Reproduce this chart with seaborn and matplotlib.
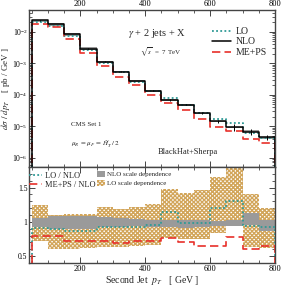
import numpy as np
import matplotlib
matplotlib.use("Agg")
import matplotlib.pyplot as plt
import seaborn as sns
from matplotlib.lines import Line2D
from matplotlib.patches import Patch
from matplotlib.ticker import MultipleLocator, LogLocator, NullFormatter, FixedLocator

# ---------------- data ----------------
bin_edges = [50, 100, 150, 200, 250, 300, 350, 400, 450, 500, 550, 600, 650, 700, 750, 800]
nlo = [0.0232, 0.0177, 0.0084, 0.00296, 0.00113, 5.5e-4, 2.75e-4, 1.35e-4,
       6.9e-5, 4.8e-5, 2.6e-5, 1.45e-5, 9.3e-6, 6.6e-6, 4.5e-6]
lo = [0.0211, 0.0159, 0.00731, 0.00258, 0.00104, 5.12e-4, 2.56e-4, 1.28e-4,
      7.94e-5, 4.75e-5, 2.55e-5, 1.74e-5, 1.22e-5, 6.2e-6, 4.14e-6]
meps = [0.01856, 0.01416, 0.00609, 0.002146, 8.19e-4, 3.80e-4, 1.99e-4, 9.79e-5,
        5.31e-5, 3.36e-5, 1.69e-5, 9.43e-6, 7.21e-6, 3.96e-6, 2.93e-6]
nlo_err_rel = [0.005, 0.005, 0.01, 0.01, 0.02, 0.02, 0.03, 0.04,
               0.05, 0.05, 0.07, 0.10, 0.22, 0.20, 0.18]

ratio_lo_nlo = [0.91, 0.90, 0.87, 0.87, 0.92, 0.93, 0.93, 0.95,
                1.15, 0.99, 0.98, 1.20, 1.31, 0.94, 0.92]
ratio_meps_nlo = [0.80, 0.80, 0.725, 0.725, 0.725, 0.69, 0.725, 0.725,
                  0.77, 0.70, 0.65, 0.65, 0.775, 0.60, 0.65]
nlo_band_up = [1.06, 1.09, 1.09, 1.09, 1.07, 1.06, 1.04, 1.03,
               1.03, 1.02, 1.02, 1.01, 1.02, 1.13, 1.02]
nlo_band_lo = [0.92, 0.89, 0.89, 0.90, 0.92, 0.93, 0.94, 0.92,
               0.93, 0.91, 0.92, 0.94, 0.94, 0.96, 0.86]
lo_band_up = [1.24, 1.10, 1.12, 1.12, 1.21, 1.19, 1.22, 1.26,
              1.48, 1.42, 1.46, 1.66, 1.79, 1.41, 1.20]
lo_band_lo = [0.72, 0.60, 0.60, 0.62, 0.64, 0.64, 0.65, 0.66,
              0.77, 0.75, 0.75, 0.84, 0.94, 0.64, 0.62]

x_major = [200, 400, 600, 800]
top_yticks = [1e-6, 1e-5, 1e-4, 1e-3, 1e-2]
ratio_yticks = [0.5, 1.0, 1.5]
ratio_yticklabels = ["0.5", "1", "1.5"]

# ---------------- style ----------------
sns.set_theme(style="ticks")
plt.rcParams.update({
    "font.family": ["Liberation Serif", "DejaVu Serif"],
    "mathtext.fontset": "stix",
    "axes.edgecolor": "#444444",
    "axes.linewidth": 1.0,
    "xtick.color": "#444444",
    "ytick.color": "#444444",
    "xtick.labelcolor": "black",
    "ytick.labelcolor": "black",
    "xtick.direction": "in",
    "ytick.direction": "in",
    "xtick.major.size": 4,
    "ytick.major.size": 4,
    "xtick.minor.size": 2,
    "ytick.minor.size": 2,
    "xtick.major.width": 0.7,
    "ytick.major.width": 0.7,
    "xtick.minor.width": 0.6,
    "ytick.minor.width": 0.6,
    "xtick.labelsize": 6,
    "ytick.labelsize": 5.5,
    "hatch.linewidth": 1.0,
})

TEAL = "#2f9a96"
RED = "#e8302a"
GRAY = "#9a9a9a"
HATCH_C = "#d2a55a"

W, H = 282, 287
fig = plt.figure(figsize=(W / 100, H / 100), dpi=100)
ax1 = fig.add_axes([29 / W, 1 - 167 / H, 246 / W, 157 / H])
ax2 = fig.add_axes([29 / W, 1 - 263 / H, 246 / W, 96 / H])

edges = np.asarray(bin_edges, float)
centers = 0.5 * (edges[:-1] + edges[1:])


def ext(vals):
    v = np.asarray(vals, float)
    return np.append(v, v[-1])


def draw_step(ax, vals, base, color, dashes, lw, z):
    v = np.asarray(vals, float)
    x = np.concatenate([[edges[0]], edges, [edges[-1]]])
    y = np.concatenate([[base], v, [v[-1]], [base]])
    sns.lineplot(x=x, y=y, ax=ax, estimator=None, sort=False,
                 drawstyle="steps-post", color=color, linewidth=lw, zorder=z)
    line = ax.lines[-1]
    if dashes is not None:
        line.set_dashes(dashes)
    return line


# ---------------- top panel ----------------
nlo_a = np.asarray(nlo)
ax1.fill_between(edges, ext(nlo_a * np.asarray(nlo_band_lo)),
                 ext(nlo_a * np.asarray(nlo_band_up)),
                 step="post", color=GRAY, linewidth=0, zorder=1)
draw_step(ax1, lo, 1e-12, TEAL, (1, 1.3), 1.3, 3)
draw_step(ax1, meps, 1e-12, RED, (5, 2.5), 1.2, 4)
draw_step(ax1, nlo, 1e-12, "black", None, 1.1, 5)
ax1.errorbar(centers, nlo_a, yerr=nlo_a * np.asarray(nlo_err_rel), fmt="none",
             ecolor="black", elinewidth=0.7, zorder=6)

ax1.set_yscale("log")
ax1.set_ylim(5e-7, 5e-2)
ax1.set_xlim(42, 800)
ax1.yaxis.set_major_locator(FixedLocator(top_yticks))
ax1.yaxis.set_minor_locator(LogLocator(base=10, subs=np.arange(2, 10)))
ax1.yaxis.set_minor_formatter(NullFormatter())
ax1.xaxis.set_major_locator(FixedLocator(x_major))
ax1.xaxis.set_minor_locator(MultipleLocator(50))
ax1.tick_params(which="both", top=True, right=True, labeltop=True,
                labelbottom=False)
ax1.tick_params(axis="y", pad=1.0)
ax1.tick_params(axis="x", pad=1.5)
ax1.set_ylabel(r"$d\sigma\ /\ dp_T$    [ pb / GeV ]", fontsize=6.5, labelpad=0.5)

ax1.text(0.52, 0.853, r"$\gamma$ + 2 jets + X", transform=ax1.transAxes,
         ha="center", va="center", fontsize=7.5)
ax1.text(0.537, 0.732, r"$\sqrt{s}$  =  7 TeV", transform=ax1.transAxes,
         ha="center", va="center", fontsize=5)
ax1.text(0.232, 0.268, "CMS Set 1", transform=ax1.transAxes,
         ha="center", va="center", fontsize=5)
ax1.text(0.27, 0.146, r"$\mu_R\,=\,\mu_F\,=\,\hat{H}_T'\,/\,2$", transform=ax1.transAxes,
         ha="center", va="center", fontsize=5)
ax1.text(0.646, 0.096, "BlackHat+Sherpa", transform=ax1.transAxes,
         ha="center", va="center", fontsize=6)

top_handles = [
    Line2D([], [], color=TEAL, lw=1.3, dashes=(1, 1.3)),
    Line2D([], [], color="black", lw=1.1),
    Line2D([], [], color=RED, lw=1.2, dashes=(5, 2.5)),
]
ax1.legend(top_handles, ["LO", "NLO", "ME+PS"], loc="upper left",
           bbox_to_anchor=((212 - 29) / 246, (167 - 27) / 157),
           frameon=False, fontsize=7, handlelength=2.0, handletextpad=0.4,
           labelspacing=0.15, borderpad=0, borderaxespad=0)

# ---------------- ratio panel ----------------
ax2.fill_between(edges, ext(lo_band_lo), ext(lo_band_up), step="post",
                 facecolor="none", edgecolor=HATCH_C, hatch="xxxxxxxx",
                 linewidth=0, zorder=1)
ax2.fill_between(edges, ext(nlo_band_lo), ext(nlo_band_up), step="post",
                 color=GRAY, linewidth=0, zorder=2)
draw_step(ax2, ratio_lo_nlo, 0.0, TEAL, (1, 1.3), 1.3, 3)
draw_step(ax2, ratio_meps_nlo, 0.0, RED, (5, 2.5), 1.2, 4)

ax2.set_xlim(42, 800)
ax2.set_ylim(0.4, 1.8)
ax2.yaxis.set_major_locator(FixedLocator(ratio_yticks))
ax2.set_yticklabels(ratio_yticklabels)
ax2.yaxis.set_minor_locator(MultipleLocator(0.1))
ax2.xaxis.set_major_locator(FixedLocator(x_major))
ax2.xaxis.set_minor_locator(MultipleLocator(50))
ax2.tick_params(which="both", top=True, right=True)
ax2.tick_params(axis="y", pad=1.0)
ax2.tick_params(axis="x", pad=1.5)
ax2.set_xlabel(r"Second Jet  $p_T$   [ GeV ]", fontsize=7, labelpad=1)
ax2.set_ylabel("")

left_handles = [
    Line2D([], [], color=TEAL, lw=1.3, dashes=(1, 1.3)),
    Line2D([], [], color=RED, lw=1.2, dashes=(5, 2.5)),
]
leg1 = ax2.legend(left_handles, ["LO / NLO", "ME+PS / NLO"], loc="upper left",
                  bbox_to_anchor=(0.0, (263 - 172) / 96), frameon=False,
                  fontsize=6, handlelength=1.6, handletextpad=0.35,
                  labelspacing=0.1, borderpad=0, borderaxespad=0)
ax2.add_artist(leg1)
right_handles = [
    Patch(facecolor=GRAY, edgecolor="none"),
    Patch(facecolor="none", edgecolor=HATCH_C, hatch="xxxxxxxx", linewidth=0),
]
ax2.legend(right_handles, ["NLO scale dependence", "LO scale dependence"],
           loc="upper left", bbox_to_anchor=((97 - 29) / 246, (263 - 171) / 96),
           frameon=False, fontsize=5, handlelength=1.2, handleheight=1.0,
           handletextpad=0.3, labelspacing=0.35, borderpad=0, borderaxespad=0)

fig.savefig("out.png", dpi=100)
